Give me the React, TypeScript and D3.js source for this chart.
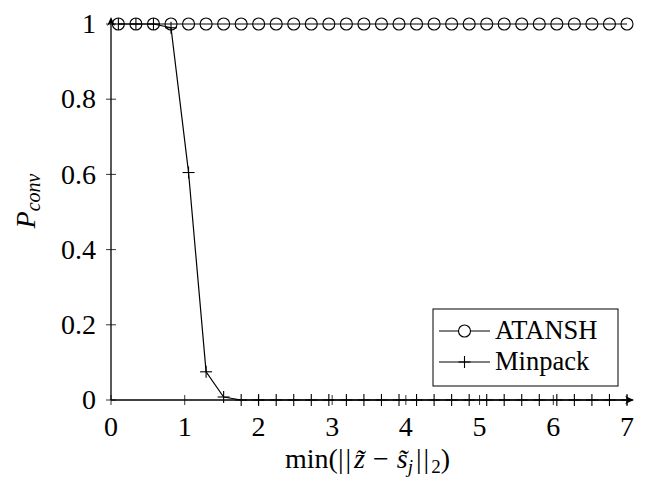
import React from "react";
import * as d3 from "d3";

const xValues = [0.1, 0.338, 0.576, 0.814, 1.052, 1.29, 1.528, 1.766, 2.003, 2.241, 2.479, 2.717, 2.955, 3.193, 3.431, 3.669, 3.907, 4.145, 4.383, 4.621, 4.859, 5.097, 5.334, 5.572, 5.81, 6.048, 6.286, 6.524, 6.762, 7.0];
const atanshValues = [1, 1, 1, 1, 1, 1, 1, 1, 1, 1, 1, 1, 1, 1, 1, 1, 1, 1, 1, 1, 1, 1, 1, 1, 1, 1, 1, 1, 1, 1];
const minpackValues = [1, 1, 1, 0.99, 0.605, 0.075, 0.008, 0, 0, 0, 0, 0, 0, 0, 0, 0, 0, 0, 0, 0, 0, 0, 0, 0, 0, 0, 0, 0, 0, 0];
const xTicks = [0, 1, 2, 3, 4, 5, 6, 7];
const yTicks = [0, 0.2, 0.4, 0.6, 0.8, 1];
const yTickLabels = ["0", "0.2", "0.4", "0.6", "0.8", "1"];
const seriesNames = ["ATANSH", "Minpack"];

const W = 646, H = 486;
const FONT = '"Liberation Serif", "Times New Roman", serif';
const FS = 28;

export default function App() {
  const x = d3.scaleLinear().domain([0, 7]).range([111, 627]);
  const y = d3.scaleLinear().domain([0, 1]).range([400, 24]);
  const line = d3.line<[number, number]>().x(d => x(d[0])).y(d => y(d[1]));
  const atansh: [number, number][] = xValues.map((v, i) => [v, atanshValues[i]]);
  const minpack: [number, number][] = xValues.map((v, i) => [v, minpackValues[i]]);
  const R = 6;
  const C = 6;
  const cross = (cx: number, cy: number, k: string) => (
    <g key={k}>
      <line x1={cx - C} x2={cx + C} y1={cy} y2={cy} stroke="black" strokeWidth={1.1} />
      <line x1={cx} x2={cx} y1={cy - C} y2={cy + C} stroke="black" strokeWidth={1.1} />
    </g>
  );
  const x0 = x(0), y0 = y(0);
  const xEnd = 634, yEnd = 17;
  const legL = 433, legR = 618, legT = 309, legB = 386;
  const rows = [331, 362];
  const sL = 439, sR = 490, sM = 464.5;
  return (
    <div style={{ margin: -8, width: W, height: H, background: "white" }}>
      <svg width={W} height={H} style={{ display: "block", fontFamily: FONT }}>
        <rect width={W} height={H} fill="white" />
        {xTicks.map(t => (
          <g key={"xt" + t}>
            <line x1={x(t)} x2={x(t)} y1={y0 - 5} y2={y0 + 5} stroke="black" strokeWidth={0.8} />
            <text x={x(t)} y={436} fontSize={FS} textAnchor="middle">{t}</text>
          </g>
        ))}
        {yTicks.map((t, i) => (
          <g key={"yt" + t}>
            <line x1={x0 - 5} x2={x0 + 5} y1={y(t)} y2={y(t)} stroke="black" strokeWidth={0.8} />
            <text x={96} y={y(t)} dy="0.33em" fontSize={FS} textAnchor="end">{yTickLabels[i]}</text>
          </g>
        ))}
        <line x1={x0} x2={xEnd - 6} y1={y0} y2={y0} stroke="black" strokeWidth={1.3} />
        <path d={`M${xEnd},${y0} L${xEnd - 9},${y0 - 4} L${xEnd - 6},${y0} L${xEnd - 9},${y0 + 4} Z`} fill="black" />
        <line x1={x0} x2={x0} y1={y0} y2={yEnd + 6} stroke="black" strokeWidth={1.3} />
        <path d={`M${x0},${yEnd} L${x0 - 4},${yEnd + 9} L${x0},${yEnd + 6} L${x0 + 4},${yEnd + 9} Z`} fill="black" />
        <path d={line(atansh) || ""} fill="none" stroke="black" strokeWidth={1.2} />
        {atansh.map((d, i) => (
          <circle key={"c" + i} cx={x(d[0])} cy={y(d[1])} r={R} fill="none" stroke="black" strokeWidth={1.1} />
        ))}
        <path d={line(minpack) || ""} fill="none" stroke="black" strokeWidth={1.2} />
        {minpack.map((d, i) => cross(x(d[0]), y(d[1]), "m" + i))}
        <rect x={legL} y={legT} width={legR - legL} height={legB - legT} fill="white" stroke="black" strokeWidth={1} />
        <line x1={sL} x2={sR} y1={rows[0]} y2={rows[0]} stroke="black" strokeWidth={1.2} />
        <circle cx={sM} cy={rows[0]} r={R} fill="white" stroke="black" strokeWidth={1.1} />
        <text x={495} y={rows[0]} dy="0.3em" fontSize={26.5}>{seriesNames[0]}</text>
        <line x1={sL} x2={sR} y1={rows[1]} y2={rows[1]} stroke="black" strokeWidth={1.2} />
        {cross(sM, rows[1], "legc")}
        <text x={495} y={rows[1]} dy="0.3em" fontSize={26.5}>{seriesNames[1]}</text>
        <text x={285} y={468} fontSize={FS}>
          min(<tspan letterSpacing={2}>||</tspan><tspan fontStyle="italic" dx={1}>z̃</tspan><tspan dx={8}>−</tspan><tspan fontStyle="italic" dx={8}>s̃</tspan><tspan fontStyle="italic" fontSize={19} dy={5}>j</tspan><tspan dy={-5} dx={3} letterSpacing={2}>||</tspan><tspan fontSize={19} dy={5}>2</tspan><tspan dy={-5}>)</tspan>
        </text>
        <text transform={`translate(35,201) rotate(-90)`} fontSize={FS} textAnchor="middle" fontStyle="italic">
          P<tspan fontSize={20} dy={5}>conv</tspan>
        </text>
      </svg>
    </div>
  );
}
